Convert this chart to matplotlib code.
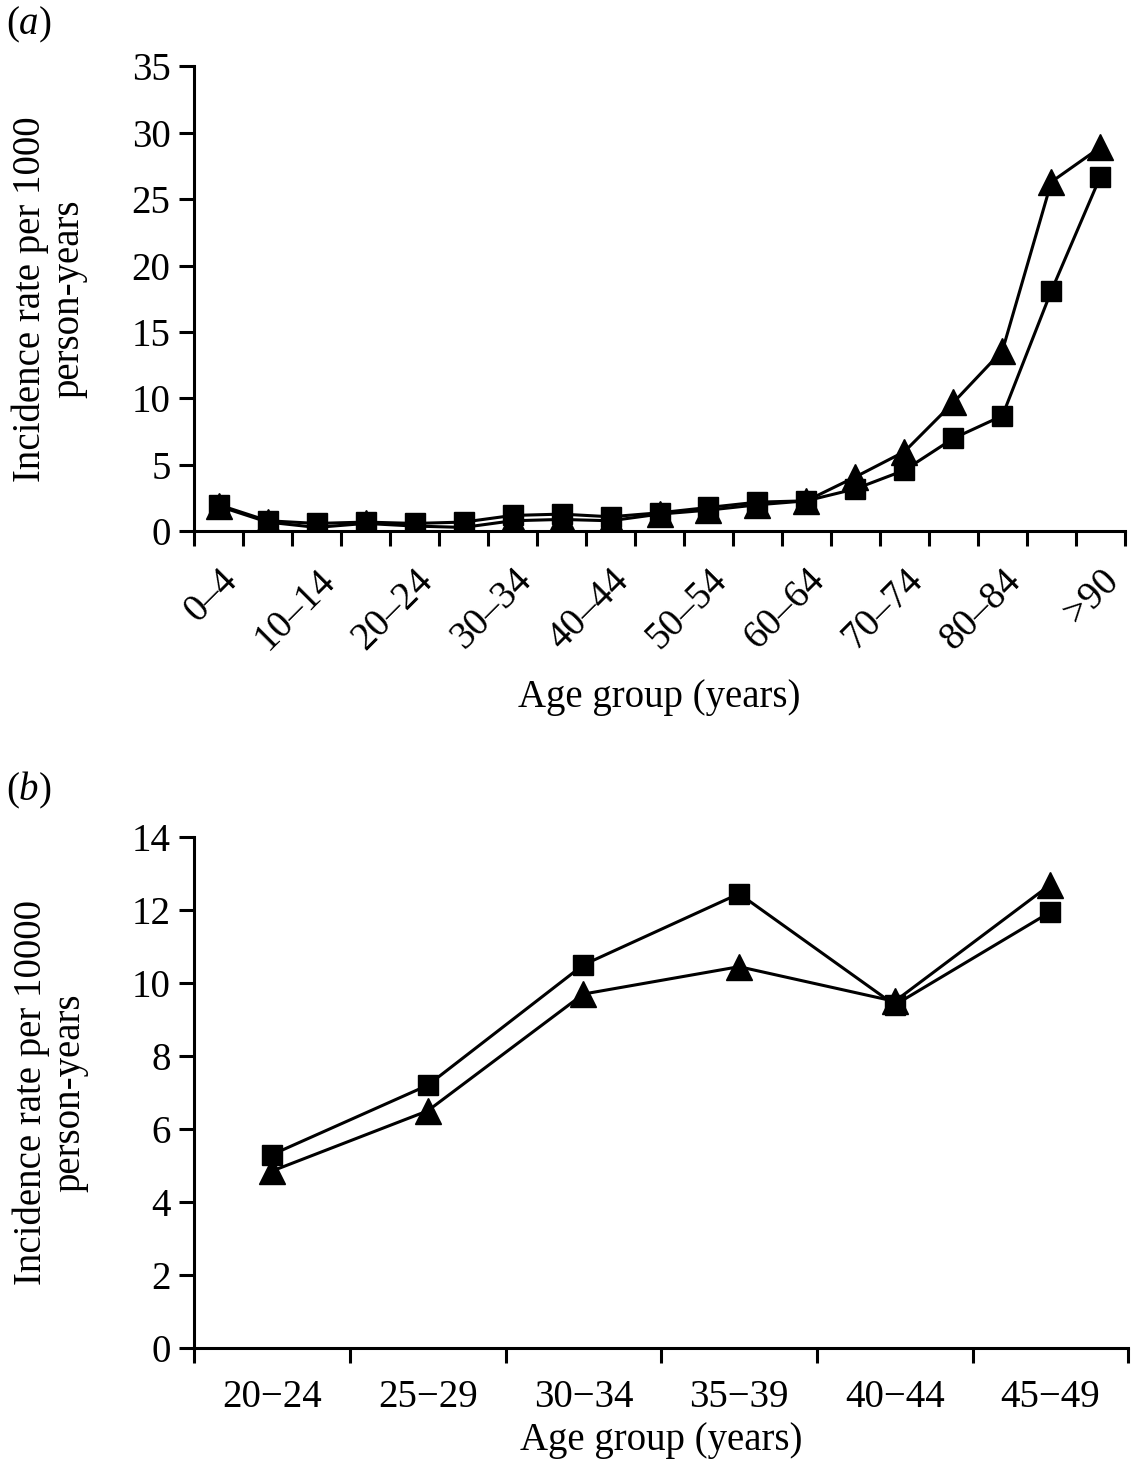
import matplotlib.pyplot as plt
import numpy as np

plt.rcParams['font.family'] = ['Liberation Serif', 'DejaVu Serif']
plt.rcParams['mathtext.fontset'] = 'custom'
plt.rcParams['mathtext.rm'] = 'Liberation Serif'
plt.rcParams['mathtext.it'] = 'Liberation Serif:italic'

# panel (a): all ages, rate per 1000 person-years
ages_a = ['0\u20134', '5\u20139', '10\u201314', '15\u201319', '20\u201324', '25\u201329',
          '30\u201334', '35\u201339', '40\u201344', '45\u201349', '50\u201354', '55\u201359',
          '60\u201364', '65\u201369', '70\u201374', '75\u201379', '80\u201384', '85\u201389', '>90']
squares_a = [2.0, 0.8, 0.6, 0.7, 0.6, 0.7, 1.2, 1.3, 1.1, 1.4, 1.8, 2.2,
             2.3, 3.2, 4.6, 7.0, 8.7, 18.1, 26.7]
triangles_a = [1.9, 0.7, 0.3, 0.6, 0.4, 0.3, 0.8, 0.9, 0.8, 1.3, 1.6, 2.0,
               2.3, 4.1, 6.0, 9.7, 13.6, 26.3, 28.9]

# panel (b): young adults, rate per 10000 person-years
ages_b = ['20\u221224', '25\u221229', '30\u221234', '35\u221239', '40\u221244', '45\u221249']
squares_b = [5.3, 7.2, 10.5, 12.45, 9.4, 11.95]
triangles_b = [4.85, 6.5, 9.7, 10.45, 9.5, 12.7]

FS = 28
LW = 2.2
MS_SQ = 15
MS_TRI = 19

fig = plt.figure(figsize=(11.42, 14.72), dpi=100)
ax1 = fig.add_axes([0.170, 0.639, 0.815, 0.316])
ax2 = fig.add_axes([0.170, 0.0842, 0.818, 0.3471])


def style_axes(ax):
    for s in ['top', 'right']:
        ax.spines[s].set_visible(False)
    for s in ['left', 'bottom']:
        ax.spines[s].set_linewidth(2.2)
    ax.tick_params(axis='both', which='major', direction='out', width=2.2, length=11,
                   labelsize=FS)
    ax.tick_params(axis='y', pad=6)


# --- (a)
x = np.arange(len(ages_a))
ax1.plot(x, triangles_a, color='black', lw=LW, marker='^', ms=MS_TRI)
ax1.plot(x, squares_a, color='black', lw=LW, marker='s', ms=MS_SQ)
ax1.set_xlim(-0.5, len(ages_a) - 0.5)
ax1.set_ylim(0, 35)
ax1.set_yticks(range(0, 36, 5))
ax1.set_xticks(np.arange(-0.5, len(ages_a), 1))
ax1.set_xticklabels([])
ax1.set_xticks(x[::2], minor=True)
ax1.set_xticklabels(ages_a[::2], minor=True, rotation=45, ha='right',
                    rotation_mode='anchor', fontsize=FS)
ax1.tick_params(axis='x', which='minor', length=0, pad=22)
style_axes(ax1)
ax1.set_ylabel('Incidence rate per 1000\nperson-years', fontsize=FS, linespacing=1.05,
               va='center')
ax1.yaxis.set_label_coords(-0.155, 0.5)
ax1.set_xlabel('Age group (years)', fontsize=FS, va='center')
ax1.xaxis.set_label_coords(0.5, -0.357)
fig.text(0.005, 1 - 25 / 1472, r'($\mathit{a}$)', fontsize=FS, va='center')

# --- (b)
xb = np.arange(len(ages_b))
ax2.plot(xb, squares_b, color='black', lw=LW, marker='s', ms=MS_SQ)
ax2.plot(xb, triangles_b, color='black', lw=LW, marker='^', ms=MS_TRI)
ax2.set_xlim(-0.5, len(ages_b) - 0.5)
ax2.set_ylim(0, 14)
ax2.set_yticks(range(0, 15, 2))
ax2.set_xticks(np.arange(-0.5, len(ages_b), 1))
ax2.set_xticklabels([])
ax2.set_xticks(xb, minor=True)
ax2.set_xticklabels(ages_b, minor=True, fontsize=FS)
ax2.tick_params(axis='x', which='minor', length=0, pad=22)
style_axes(ax2)
ax2.set_ylabel('Incidence rate per 10000\nperson-years', fontsize=FS, linespacing=1.05,
               va='center')
ax2.yaxis.set_label_coords(-0.154, 0.5)
ax2.set_xlabel('Age group (years)', fontsize=FS, va='center')
ax2.xaxis.set_label_coords(0.5, -0.18)
fig.text(0.005, 1 - 790 / 1472, r'($\mathit{b}$)', fontsize=FS, va='center')

fig.savefig('out.png', dpi=100)
